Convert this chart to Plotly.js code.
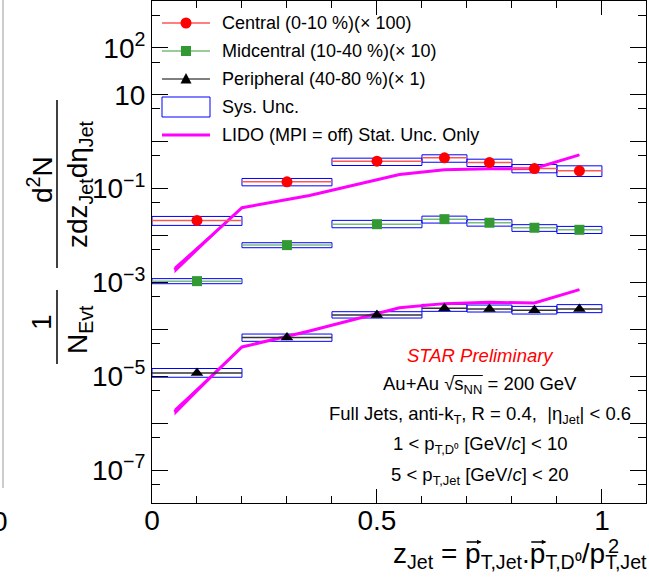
<!DOCTYPE html>
<html><head><meta charset="utf-8">
<script src="https://cdn.plot.ly/plotly-3.0.1.min.js"></script>
<style>html,body{margin:0;padding:0;background:#fff}</style>
</head><body><div id="chart" style="width:649px;height:584px"></div>
<script>
// ---- data ----
const zJet = [0.1, 0.3, 0.5, 0.65, 0.75, 0.85, 0.95];
const binLow = [0.0, 0.2, 0.4, 0.6, 0.7, 0.8, 0.9];
const binHigh = [0.2, 0.4, 0.6, 0.7, 0.8, 0.9, 1.0];
const central = [0.021, 0.140, 0.385, 0.455, 0.361, 0.269, 0.240];
const centralSysLow = [0.0165, 0.115, 0.312, 0.366, 0.297, 0.218, 0.182];
const centralSysHigh = [0.0256, 0.165, 0.447, 0.527, 0.425, 0.327, 0.307];
const midcentral = [1.07e-3, 6.27e-3, 0.0175, 0.0224, 0.0188, 0.0147, 0.0133];
const midSysLow = [9.44e-4, 5.52e-3, 0.0147, 0.0185, 0.0159, 0.0123, 0.0111];
const midSysHigh = [1.21e-3, 7.05e-3, 0.0211, 0.0260, 0.0218, 0.0171, 0.0157];
const peripheral = [1.18e-5, 6.7e-5, 2.03e-4, 2.82e-4, 2.72e-4, 2.55e-4, 2.72e-4];
const periSysLow = [9.57e-6, 5.58e-5, 1.75e-4, 2.43e-4, 2.35e-4, 2.13e-4, 2.28e-4];
const periSysHigh = [1.47e-5, 7.98e-5, 2.39e-4, 3.43e-4, 3.31e-4, 3.10e-4, 3.38e-4];
const lidoZ = [0.05, 0.2, 0.35, 0.55, 0.65, 0.75, 0.85, 0.95];
const lidoCentral = [1.88e-3, 0.0393, 0.0716, 0.200, 0.253, 0.266, 0.269, 0.527];
const lidoPeripheral = [1.75e-6, 4.23e-5, 9.25e-5, 2.91e-4, 3.55e-4, 3.78e-4, 3.66e-4, 7.05e-4];
const lidoRelErr = [0.16, 0.03, 0.02, 0.02, 0.02, 0.02, 0.02, 0.02];
const xTickVals = [0, 0.5, 1];
const xTickText = ['0', '0.5', '1'];
const yTickVals = [1e-7, 1e-6, 1e-5, 1e-4, 1e-3, 1e-2, 1e-1, 1, 10, 100];
const yTickText = ['10<sup>−7</sup>', '', '10<sup>−5</sup>', '', '10<sup>−3</sup>', '', '10<sup>−1</sup>', '', '10', '10<sup>2</sup>'];
const yMinorVals = [5e-8, 5e-7, 5e-6, 5e-5, 5e-4, 5e-3, 5e-2, 0.5, 5, 50, 500];
const legendLabels = ['Central (0-10 %)(× 100)', 'Midcentral (10-40 %)(× 10)', 'Peripheral (40-80 %)(× 1)', 'Sys. Unc.', 'LIDO (MPI = off) Stat. Unc. Only'];

// ---- helpers ----
const FONT = 'Liberation Sans, Arial, Helvetica, sans-serif';
const L = 152, R = 646, T = 1, B = 503;
const px = v => (v - L) / (R - L);
const py = v => (B - v) / (B - T);

function boxes(lo, hi) {
  const x = [], y = [];
  for (let i = 0; i < binLow.length; i++) {
    x.push(binLow[i], binHigh[i], binHigh[i], binLow[i], binLow[i], null);
    y.push(lo[i], lo[i], hi[i], hi[i], lo[i], null);
  }
  return {x, y, type: 'scatter', mode: 'lines', line: {color: '#0000ff', width: 1}, hoverinfo: 'skip', showlegend: false};
}
const halfW = binLow.map((v, i) => (binHigh[i] - v) / 2);

function lidoBand(vals, name) {
  const lo = vals.map((v, i) => v * (1 - lidoRelErr[i]));
  const hi = vals.map((v, i) => v * (1 + lidoRelErr[i]));
  return [
    {x: lidoZ, y: lo, type: 'scatter', mode: 'lines', line: {width: 0, color: '#ff00ff'}, showlegend: false, hoverinfo: 'skip'},
    {x: lidoZ, y: hi, type: 'scatter', mode: 'lines', fill: 'tonexty', fillcolor: '#ff00ff', line: {width: 0, color: '#ff00ff'}, showlegend: false, hoverinfo: 'skip'},
    {x: lidoZ, y: vals, type: 'scatter', mode: 'lines', name: name, line: {color: '#ff00ff', width: 3}, showlegend: false}
  ];
}

function series(y, name, color, errColor, symbol, size) {
  return {x: zJet, y: y, type: 'scatter', mode: 'markers', name: name,
    marker: {color: color, symbol: symbol, size: size, line: {width: 0}},
    error_x: {type: 'data', array: halfW, visible: true, width: 0, thickness: 1.5, color: errColor},
    showlegend: false};
}

const data = [
  boxes(centralSysLow, centralSysHigh),
  boxes(midSysLow, midSysHigh),
  boxes(periSysLow, periSysHigh),
  ...lidoBand(lidoCentral, 'LIDO Central'),
  ...lidoBand(lidoPeripheral, 'LIDO Peripheral'),
  series(central, legendLabels[0], '#ff0000', '#ff5555', 'circle', 11),
  series(midcentral, legendLabels[1], '#339933', '#77bb77', 'square', 10),
  series(peripheral, legendLabels[2], '#000000', '#333333', 'triangle-up', 11)
];

// ---- legend (drawn manually) ----
const shapes = [];
const annotations = [];
const legRows = [23, 51, 79, 107, 135];
const legColors = ['#ff0000', '#339933', '#000000'];
for (let i = 0; i < 3; i++) {
  shapes.push({type: 'line', xref: 'paper', yref: 'paper', x0: px(162), x1: px(210), y0: py(legRows[i]), y1: py(legRows[i]), line: {color: legColors[i], width: 1}});
}
shapes.push({type: 'circle', xref: 'paper', yref: 'paper', xsizemode: 'pixel', ysizemode: 'pixel', xanchor: px(186), yanchor: py(legRows[0]), x0: -5.5, x1: 5.5, y0: -5.5, y1: 5.5, fillcolor: '#ff0000', line: {width: 0}});
shapes.push({type: 'rect', xref: 'paper', yref: 'paper', xsizemode: 'pixel', ysizemode: 'pixel', xanchor: px(186), yanchor: py(legRows[1]), x0: -5, x1: 5, y0: -5, y1: 5, fillcolor: '#339933', line: {width: 0}});
shapes.push({type: 'path', xref: 'paper', yref: 'paper', xsizemode: 'pixel', ysizemode: 'pixel', xanchor: px(186), yanchor: py(legRows[2]), path: 'M-5.5,-4.5 L5.5,-4.5 L0,6 Z', fillcolor: '#000000', line: {width: 0}});
shapes.push({type: 'rect', xref: 'paper', yref: 'paper', x0: px(162), x1: px(210), y0: py(117), y1: py(97), line: {color: '#0000ff', width: 1}});
shapes.push({type: 'line', xref: 'paper', yref: 'paper', x0: px(162), x1: px(210), y0: py(legRows[4]), y1: py(legRows[4]), line: {color: '#ff00ff', width: 3}});
legendLabels.forEach((t, i) => {
  annotations.push({text: t, xref: 'paper', yref: 'paper', x: px(220), y: py(legRows[i]), xanchor: 'left', yanchor: 'middle', showarrow: false, font: {family: FONT, size: 18, color: '#000'}});
});

// ---- text annotations ----
const txt = [
  ['<i>STAR Preliminary</i>', 355, '#ff0000'],
  ['Au+Au √s<sub>NN</sub> = 200 GeV', 385, '#000'],
  ['Full Jets, anti-k<sub>T</sub>, R = 0.4,  |η<sub>Jet</sub>| < 0.6', 415, '#000'],
  ['1 < p<sub>T,D⁰</sub> [GeV/<i>c</i>] < 10', 445, '#000'],
  ['5 < p<sub>T,Jet</sub> [GeV/<i>c</i>] < 20', 476, '#000']
];
txt.forEach(([t, y, c]) => {
  annotations.push({text: t, xref: 'paper', yref: 'paper', x: px(480), y: py(y), xanchor: 'center', yanchor: 'middle', showarrow: false, font: {family: FONT, size: 18.5, color: c}});
});

// x-axis title (the squared exponent is stacked above the subscript after render)
const XFONT = 28;
const XTITLE = 'z<sub>Jet</sub> = p<sub>T,Jet</sub>.p<sub>T,D⁰</sub>/p<sub>T,Jet</sub>';
annotations.push({text: XTITLE, xref: 'paper', yref: 'paper', x: px(649), y: py(555), xanchor: 'right', yanchor: 'middle', showarrow: false, font: {family: FONT, size: XFONT, color: '#000'}});

// y-axis title (stacked fractions)
const yt = {family: FONT, size: 28, color: '#000'};
annotations.push({text: 'd<sup>2</sup>N', xref: 'paper', yref: 'paper', x: px(40), y: py(180), xanchor: 'center', yanchor: 'middle', textangle: -90, showarrow: false, font: yt});
annotations.push({text: 'zdz<sub>Jet</sub>dη<sub>Jet</sub>', xref: 'paper', yref: 'paper', x: px(79), y: py(184), xanchor: 'center', yanchor: 'middle', textangle: -90, showarrow: false, font: yt});
annotations.push({text: '1', xref: 'paper', yref: 'paper', x: px(41), y: py(322), xanchor: 'center', yanchor: 'middle', textangle: -90, showarrow: false, font: yt});
annotations.push({text: 'N<sub>Evt</sub>', xref: 'paper', yref: 'paper', x: px(79), y: py(330), xanchor: 'center', yanchor: 'middle', textangle: -90, showarrow: false, font: yt});
shapes.push({type: 'line', xref: 'paper', yref: 'paper', x0: px(57), x1: px(57), y0: py(100), y1: py(268), line: {color: '#000', width: 1.5}});
shapes.push({type: 'line', xref: 'paper', yref: 'paper', x0: px(57), x1: px(57), y0: py(290), y1: py(364), line: {color: '#000', width: 1.5}});

// remnant of neighbouring panel at left edge
shapes.push({type: 'line', xref: 'paper', yref: 'paper', x0: px(3), x1: px(3), y0: py(0), y1: py(488), line: {color: '#999', width: 1}});
annotations.push({text: '0', xref: 'paper', yref: 'paper', x: px(10), y: py(521), xanchor: 'right', yanchor: 'middle', showarrow: false, font: {family: FONT, size: 28, color: '#000'}});

const layout = {
  width: 649, height: 584,
  margin: {l: L, r: 649 - R, t: T, b: 584 - B, pad: 0},
  paper_bgcolor: '#fff', plot_bgcolor: '#fff',
  showlegend: false,
  xaxis: {range: [0, 1.098], showline: true, linecolor: '#000', linewidth: 1, mirror: 'ticks',
    ticks: 'inside', ticklen: 14, tickwidth: 1, tickcolor: '#000', ticklabelstandoff: -8,
    tickmode: 'array', tickvals: xTickVals, ticktext: xTickText,
    tickfont: {family: FONT, size: 28, color: '#000'}, showgrid: false, zeroline: false,
    minor: {tickmode: 'linear', tick0: 0, dtick: 0.1, ticks: 'inside', ticklen: 7, tickwidth: 1, tickcolor: '#000', showgrid: false}},
  yaxis: {type: 'log', range: [Math.log10(2e-8), 3], showline: true, linecolor: '#000', linewidth: 1, mirror: 'ticks',
    ticks: 'inside', ticklen: 16, tickwidth: 1, tickcolor: '#000',
    tickmode: 'array', tickvals: yTickVals, ticktext: yTickText,
    tickfont: {family: FONT, size: 28, color: '#000'}, showgrid: false, zeroline: false,
    minor: {tickmode: 'array', tickvals: yMinorVals, ticks: 'inside', ticklen: 8, tickwidth: 1, tickcolor: '#000', showgrid: false}},
  shapes: shapes,
  annotations: annotations
};

Plotly.newPlot('chart', data, layout, {staticPlot: true, displayModeBar: false}).then(gd => {
  const box = gd.getBoundingClientRect();
  function charBox(el, i) {
    const ctm = el.getScreenCTM();
    const e = el.getExtentOfChar(i);
    return {x0: ctm.a * e.x + ctm.e - box.left, x1: ctm.a * (e.x + e.width) + ctm.e - box.left,
            top: ctm.d * e.y + ctm.f - box.top, h: ctm.d * e.height};
  }
  const texts = Array.from(gd.querySelectorAll('.annotation-text'));
  const extraAnn = [], extraShapes = [];
  // x title: vector arrows over the first two p, stacked exponent on the last p
  const el = texts.find(t => t.textContent.indexOf('= p') >= 0);
  if (el) {
    const content = el.textContent;
    let count = 0;
    for (let i = 0; i < content.length; i++) {
      if (content[i] !== 'p') continue;
      count++;
      const b = charBox(el, i);
      if (count <= 2) {
        const yA = b.top + 4;
        extraAnn.push({xref: 'paper', yref: 'paper', x: px(b.x1 + 1), y: py(yA), ax: -(b.x1 - b.x0 + 1), ay: 0,
          text: '', showarrow: true, arrowhead: 2, arrowsize: 0.7, arrowwidth: 1.3, arrowcolor: '#000', standoff: 0});
      } else {
        const base = b.top + 0.905 * XFONT;
        extraAnn.push({text: '2', xref: 'paper', yref: 'paper', x: px(b.x1 + 0.5), y: py(base - 0.62 * XFONT), xanchor: 'left', yanchor: 'middle',
          showarrow: false, font: {family: FONT, size: Math.round(XFONT * 0.7), color: '#000'}});
      }
    }
  }
  // overline of the square root
  const el2 = texts.find(t => t.textContent.indexOf('√') >= 0);
  if (el2) {
    const c = el2.textContent;
    const k = c.indexOf('√');
    const kEnd = c.lastIndexOf('N');
    const r = charBox(el2, k), n = charBox(el2, kEnd);
    const yl = r.top + 0.12 * r.h;
    extraShapes.push({type: 'line', xref: 'paper', yref: 'paper', x0: px(r.x1 - 0.5), x1: px(n.x1 + 0.5), y0: py(yl), y1: py(yl), line: {color: '#000', width: 1}});
  }
  Plotly.relayout(gd, {annotations: annotations.concat(extraAnn), shapes: shapes.concat(extraShapes)});
});
</script>
</body></html>
